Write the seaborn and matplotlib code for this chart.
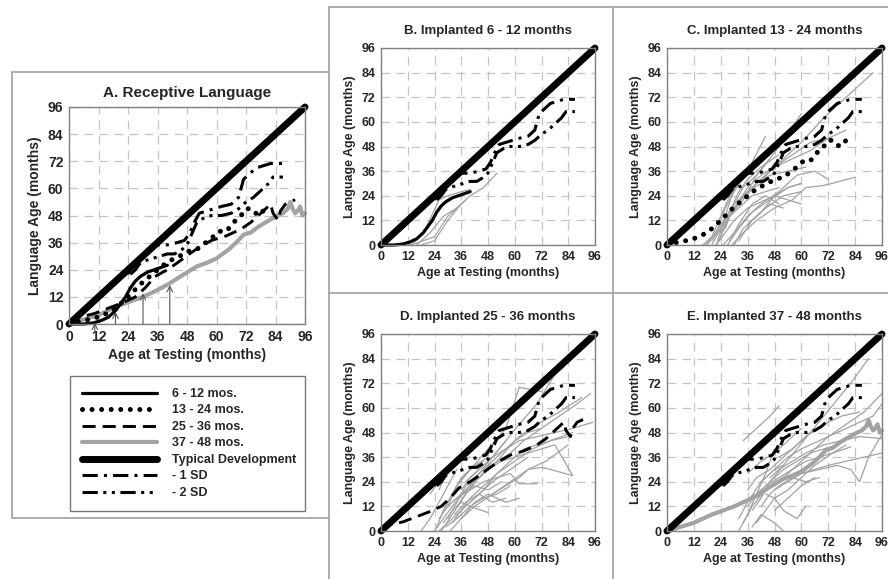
import matplotlib
matplotlib.use("Agg")
import matplotlib.pyplot as plt
from matplotlib.lines import Line2D
import numpy as np
import pandas as pd
import seaborn as sns

# ---- data (months) ----
ticks = [0, 12, 24, 36, 48, 60, 72, 84, 96]

typical_x = [0, 96]
typical_y = [0, 96]

sd1_x = [24, 25, 27, 30, 33, 36, 40, 44, 47, 49, 51, 53, 56, 59, 62, 66, 69, 70, 71, 73, 76, 79, 82, 85, 87]
sd1_y = [22, 25, 28, 30, 34, 35, 35, 36, 37, 40, 45, 49, 50, 51, 52, 53, 56, 60, 64, 66, 69, 70, 71, 71, 71]

sd2_x = [25, 27, 29, 31, 34, 37, 40, 43, 46, 48, 50, 52, 55, 58, 62, 66, 69, 72, 75, 78, 81, 83, 85, 87]
sd2_y = [22, 24, 27, 28, 29, 30, 31, 31, 33, 35, 40, 45, 47, 48, 48, 49, 51, 54, 56, 59, 62, 65, 65, 65]

mean_6_12_x = [0, 6, 10, 13, 16, 19, 21, 23, 25, 27, 29, 32, 36, 40]
mean_6_12_y = [0, 0, 0.5, 1.5, 3, 6, 9, 12, 16, 19, 21, 23, 24.5, 26]

mean_13_24_x = [0, 3, 6, 10, 13, 16, 19, 22, 25, 28, 31, 34, 37, 41, 45, 48, 52, 55, 58, 61, 64, 67, 70, 72, 74, 77, 80]
mean_13_24_y = [0, 1, 1.5, 2.5, 3.5, 5, 7, 10, 13, 16.5, 19.5, 22, 25, 28, 30, 32, 33, 35.5, 38, 41, 41, 45, 48, 51, 51, 48, 51]

mean_25_36_x = [0, 4, 10, 16, 22, 27, 31, 35, 40, 44, 49, 53, 58, 64, 70, 74, 79, 82, 83, 85, 86, 88, 92]
mean_25_36_y = [0, 3, 4.5, 7, 9.5, 12, 16, 21, 24, 27, 31, 34, 37, 39, 42, 45, 50, 53, 49, 46, 50, 53, 55]

mean_37_48_x = [0, 6, 12, 20, 30, 36, 41, 46, 52, 56, 60, 65, 68, 71, 74, 77, 80, 84, 87, 89, 90, 91, 92, 93, 94, 95, 96]
mean_37_48_y = [0, 2, 4, 8, 12, 15, 18, 21.5, 25.5, 27, 29, 33, 36, 39.5, 40.5, 43, 45, 47.5, 49, 51, 54, 51, 49, 50, 52, 48, 49]

# ages at implantation (arrows in panel A): x, arrow base y, arrow tip y
arrow_x = [10.5, 18.9, 30.1, 41]
arrow_base = [-3.5, 0, 0, 0]
arrow_tip = [0.5, 5.4, 13.6, 17.2]

# individual children, one (ages, language ages) pair each
b_children = [
    ([12, 16, 24, 30, 38], [0, 1, 4, 14, 22]),
    ([14, 20, 26, 30, 36, 40], [0, 8, 22, 24, 26, 27]),
    ([16, 22, 28, 34, 40, 46, 52], [0, 6, 14, 18, 24, 28, 35]),
    ([18, 24, 30, 36], [0, 2, 12, 20]),
]

c_children = [
    ([16, 20, 24, 28, 32], [0, 4, 14, 24, 30]),
    ([17, 22, 26, 30, 36, 44], [0, 6, 18, 26, 36, 53]),
    ([18, 24, 30, 36, 42, 48], [0, 10, 20, 26, 30, 40]),
    ([20, 24, 28, 34, 40, 48, 60], [0, 8, 14, 22, 34, 45, 64]),
    ([20, 26, 32, 38, 44, 50], [2, 12, 18, 24, 26, 28]),
    ([22, 26, 30, 36, 42, 48, 54, 60], [0, 6, 12, 18, 21, 24, 22, 20]),
    ([23, 28, 34, 40, 46, 54, 62], [2, 14, 24, 30, 34, 36, 38]),
    ([24, 28, 32, 36, 42, 50], [4, 16, 26, 32, 38, 44]),
    ([24, 30, 36, 44, 52, 60, 70, 80, 92], [6, 18, 26, 34, 42, 50, 62, 72, 84]),
    ([25, 30, 36, 42, 50, 58, 66, 72], [0, 6, 14, 20, 26, 34, 36, 32]),
    ([26, 30, 34, 40, 46], [8, 20, 28, 34, 42]),
    ([27, 32, 38, 46, 54, 60], [0, 8, 16, 22, 28, 30]),
    ([28, 32, 38, 44, 50], [2, 10, 20, 24, 20]),
    ([29, 34, 40, 48, 56, 62, 70, 84], [0, 6, 12, 18, 22, 28, 29, 33]),
    ([30, 34, 40, 46, 52], [0, 8, 14, 20, 18]),
    ([30, 36, 42, 48, 56, 64, 72], [18, 28, 34, 38, 42, 46, 52]),
    ([32, 38, 44, 52, 60], [2, 12, 18, 24, 26]),
    ([34, 40, 48, 56, 64, 72, 80], [22, 30, 38, 44, 50, 52, 56]),
    ([36, 42, 48, 54, 60], [10, 16, 24, 28, 30]),
    ([22, 26, 30, 34], [0, 14, 28, 32]),
]

d_children = [
    ([18, 22, 26, 30, 34], [0, 6, 14, 22, 30]),
    ([22, 26, 30, 34, 40], [18, 24, 30, 34, 36]),
    ([24, 28, 32, 38, 44, 50], [0, 6, 12, 20, 28, 34]),
    ([25, 28, 32, 36, 42, 48], [2, 10, 18, 26, 32, 36]),
    ([26, 30, 36, 42, 50, 58, 66], [0, 4, 10, 16, 24, 30, 36]),
    ([26, 30, 34, 40, 46], [6, 12, 22, 30, 34]),
    ([27, 32, 38, 44, 52, 60, 66, 72], [0, 8, 18, 26, 34, 44, 48, 50]),
    ([28, 32, 36, 40, 48], [4, 10, 14, 12, 9]),
    ([28, 34, 40, 48, 56, 62, 72], [10, 22, 30, 40, 50, 70, 68]),
    ([29, 34, 40, 46, 52, 58], [2, 6, 12, 16, 18, 22]),
    ([30, 34, 38, 44, 50, 56, 62, 70, 80], [6, 14, 22, 28, 36, 44, 52, 62, 80]),
    ([30, 36, 42, 48, 54], [12, 18, 22, 20, 24]),
    ([31, 36, 42, 50, 58, 66, 74, 84], [0, 6, 12, 18, 24, 30, 34, 42]),
    ([32, 36, 40, 46, 52, 60, 68, 76, 86], [4, 10, 16, 22, 28, 34, 40, 44, 48]),
    ([32, 38, 44, 50, 58, 64, 72, 80, 88, 94], [14, 20, 26, 32, 38, 44, 50, 56, 62, 67]),
    ([33, 38, 44, 50, 56], [8, 14, 18, 14, 16]),
    ([34, 38, 42, 48, 54, 60, 66, 72, 78, 86], [12, 18, 24, 30, 34, 36, 38, 40, 42, 27]),
    ([34, 40, 46, 52, 58, 62, 70], [16, 20, 24, 26, 28, 23, 23]),
    ([50, 56, 62, 66, 72, 76, 86], [18, 22, 26, 30, 31, 30, 27]),
    ([36, 40, 44, 50, 56, 62, 70, 78, 86, 95], [20, 26, 30, 36, 40, 44, 46, 48, 50, 53]),
    ([36, 42, 48, 56, 62], [6, 14, 18, 14, 16]),
    ([38, 44, 50, 56], [24, 30, 36, 44]),
    ([40, 46, 52, 58, 64, 70, 76, 84], [14, 20, 28, 34, 40, 42, 44, 46]),
    ([26, 30, 34], [20, 30, 36]),
    ([44, 50, 56, 62, 70, 80, 90], [26, 34, 40, 46, 52, 58, 65]),
]

e_children = [
    ([32, 36, 40, 44, 48], [0, 8, 18, 28, 40]),
    ([32, 36, 42, 48, 52], [6, 14, 24, 30, 32]),
    ([34, 38, 42, 46, 50], [44, 48, 52, 56, 61]),
    ([36, 40, 44, 48, 52], [12, 18, 22, 26, 30]),
    ([36, 40, 46, 52, 58, 64], [20, 26, 30, 36, 42, 48]),
    ([38, 42, 48, 52], [2, 8, 4, 0]),
    ([38, 42, 46, 52, 58, 64, 70, 76, 82, 90], [10, 16, 24, 32, 40, 48, 56, 64, 72, 84]),
    ([40, 44, 48, 54, 60, 66, 74, 82], [4, 10, 16, 20, 26, 32, 38, 41]),
    ([40, 46, 52, 58, 66, 72, 80, 88, 96], [16, 22, 26, 32, 40, 46, 52, 58, 67]),
    ([42, 46, 50, 56, 62, 68], [12, 18, 22, 26, 24, 26]),
    ([42, 48, 54, 60, 68, 76, 84, 92, 96], [24, 30, 36, 40, 44, 48, 52, 56, 62]),
    ([44, 48, 52, 58, 62], [18, 16, 10, 6, 12]),
    ([44, 50, 56, 62, 68, 74, 80], [22, 26, 30, 34, 36, 38, 42]),
    ([46, 50, 56, 62, 70, 78, 86, 96], [26, 30, 34, 38, 42, 44, 46, 45]),
    ([60, 68, 76, 82, 86, 90, 96], [28, 30, 32, 30, 24, 36, 47]),
    ([48, 54, 60, 66, 72, 80, 88, 96], [20, 24, 28, 30, 32, 34, 36, 38]),
    ([50, 56, 62, 70, 78, 86], [36, 40, 46, 52, 56, 58]),
    ([52, 58, 64, 70, 76], [30, 34, 38, 40, 42]),
    ([36, 42, 48, 54, 60], [28, 34, 38, 44, 50]),
    ([34, 38, 44, 50], [4, 12, 20, 24]),
    ([48, 54, 60, 66], [10, 16, 22, 26]),
]

# ---- styles ----
W, H = 888, 579
sns.set_style("white")
plt.rcParams["font.family"] = ["Liberation Sans", "DejaVu Sans"]
plt.rcParams["font.weight"] = "bold"

styles = {
    "6 - 12 mos.": dict(color="black", lw=2.3, ls="-"),
    "13 - 24 mos.": dict(color="black", lw=3.6, ls=(0, (0.01, 1.9)), dash_capstyle="round"),
    "25 - 36 mos.": dict(color="black", lw=2.1, ls=(0, (4.5, 2.4))),
    "37 - 48 mos.": dict(color="#a3a3a3", lw=3.0, ls="-"),
    "Typical Development": dict(color="black", lw=5.0, ls="-", solid_capstyle="round"),
    "- 1 SD": dict(color="black", lw=2.2, ls=(0, (5, 2, 1, 2))),
    "- 2 SD": dict(color="black", lw=2.2, ls=(0, (5, 1.8, 1, 1.8, 1, 1.8))),
}


def px_axes(x0, y0, x1, y1):
    return [x0 / W, 1 - y1 / H, (x1 - x0) / W, (y1 - y0) / H]


def children_frame(children):
    rows = []
    for i, (xs, ys) in enumerate(children):
        for a, b in zip(xs, ys):
            rows.append({"child": i, "age": a, "lang": b})
    return pd.DataFrame(rows)


def draw_line(ax, x, y, name):
    sns.lineplot(x=x, y=y, ax=ax, sort=False, estimator=None, clip_on=False,
                 **styles[name])


def draw_children(ax, children):
    df = children_frame(children)
    sns.lineplot(data=df, x="age", y="lang", units="child", estimator=None,
                 sort=False, color="#a2a2a2", lw=0.9, ax=ax, legend=False)


def style_axes(ax, title, fs_tick, fs_label, fs_title, pad):
    ax.set_xlim(0, 96)
    ax.set_ylim(0, 96)
    ax.set_xticks(ticks)
    ax.set_yticks(ticks)
    ax.grid(True, color="#c4c4c4", ls=(0, (7, 5)), lw=0.9)
    ax.set_axisbelow(True)
    for s in ax.spines.values():
        s.set_color("#808080")
        s.set_linewidth(1.0)
    ax.tick_params(length=0, labelsize=fs_tick, pad=4)
    ax.set_xlabel("Age at Testing (months)", fontsize=fs_label, fontweight="bold", labelpad=3)
    ax.set_ylabel("Language Age (months)", fontsize=fs_label, fontweight="bold", labelpad=4)
    ax.set_title(title, fontsize=fs_title, fontweight="bold", pad=pad)


fig = plt.figure(figsize=(W / 100, H / 100), dpi=100)

ax_a = fig.add_axes(px_axes(69, 107, 305, 324))
ax_b = fig.add_axes(px_axes(381, 48, 595, 245))
ax_c = fig.add_axes(px_axes(667, 48, 882, 245))
ax_d = fig.add_axes(px_axes(381, 334, 595, 531))
ax_e = fig.add_axes(px_axes(667, 334, 882, 531))

# panel A: group means
draw_line(ax_a, mean_37_48_x, mean_37_48_y, "37 - 48 mos.")
draw_line(ax_a, mean_25_36_x, mean_25_36_y, "25 - 36 mos.")
draw_line(ax_a, mean_13_24_x, mean_13_24_y, "13 - 24 mos.")
draw_line(ax_a, mean_6_12_x, mean_6_12_y, "6 - 12 mos.")
draw_line(ax_a, sd2_x, sd2_y, "- 2 SD")
draw_line(ax_a, sd1_x, sd1_y, "- 1 SD")
draw_line(ax_a, typical_x, typical_y, "Typical Development")
for xa, y0, ya in zip(arrow_x, arrow_base, arrow_tip):
    ax_a.annotate("", xy=(xa, ya), xytext=(xa, y0),
                  arrowprops=dict(arrowstyle="->", color="#555555", lw=0.8,
                                  shrinkA=0, shrinkB=0), annotation_clip=False)
style_axes(ax_a, "A. Receptive Language", 10, 10, 11, 7)

panels = [
    (ax_b, b_children, mean_6_12_x, mean_6_12_y, "6 - 12 mos.", "B. Implanted 6 - 12 months"),
    (ax_c, c_children, mean_13_24_x, mean_13_24_y, "13 - 24 mos.", "C. Implanted 13 - 24 months"),
    (ax_d, d_children, mean_25_36_x, mean_25_36_y, "25 - 36 mos.", "D. Implanted 25 - 36 months"),
    (ax_e, e_children, mean_37_48_x, mean_37_48_y, "37 - 48 mos.", "E. Implanted 37 - 48 months"),
]
for ax, kids, mx, my, name, title in panels:
    draw_children(ax, kids)
    draw_line(ax, mx, my, name)
    draw_line(ax, sd2_x, sd2_y, "- 2 SD")
    draw_line(ax, sd1_x, sd1_y, "- 1 SD")
    draw_line(ax, typical_x, typical_y, "Typical Development")
    style_axes(ax, title, 9, 9, 9.5, 10)

# legend for the whole figure, under panel A
handles = [Line2D([0], [0], **styles[k]) for k in styles]
leg = fig.legend(handles, list(styles.keys()), loc="upper left",
                 bbox_to_anchor=(70 / W, 1 - 508 / H, 235 / W, 132 / H),
                 mode="expand", fancybox=False, edgecolor="#555555",
                 prop={"size": 9, "weight": "bold"}, handlelength=6,
                 handletextpad=1.2, labelspacing=0.36, borderpad=0.95,
                 borderaxespad=0)
leg.get_frame().set_linewidth(1.0)


# frame lines between panels
def fig_line(x0, y0, x1, y1):
    fig.add_artist(Line2D([x0 / W, x1 / W], [1 - y0 / H, 1 - y1 / H],
                          transform=fig.transFigure, color="#a0a0a0", lw=1.2))


fig_line(12, 72, 329, 72)
fig_line(12, 72, 12, 518)
fig_line(12, 518, 329, 518)
fig_line(329, 7, 329, 579)
fig_line(329, 7, 888, 7)
fig_line(613, 7, 613, 579)
fig_line(329, 293, 888, 293)

fig.savefig("out.png", dpi=100)
